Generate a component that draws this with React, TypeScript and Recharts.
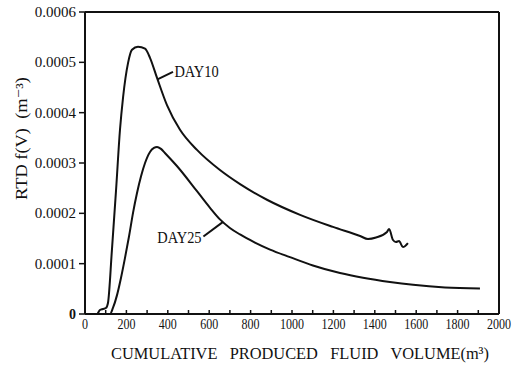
import React from 'react';
import { LineChart, Line, XAxis, YAxis, ReferenceLine, ReferenceDot, Label } from 'recharts';

// Residence-time distribution curves: cumulative produced fluid volume (m³) vs f(V) (m⁻³)
const day10Volume = [0, 58, 72, 87, 101, 111, 130, 150, 169, 184, 208, 227, 256, 290, 314, 348, 396, 459, 541, 652, 749, 879, 1039, 1198, 1329, 1367, 1406, 1459, 1469, 1488, 1502, 1517, 1536, 1560];
const day10Rtd = [0, 0, 0.000008, 0.00001, 0.000012, 0.000022, 0.000127, 0.000246, 0.000366, 0.000431, 0.000499, 0.000525, 0.000531, 0.000527, 0.000509, 0.000469, 0.000415, 0.000366, 0.000326, 0.000286, 0.000258, 0.000227, 0.000197, 0.000173, 0.000155, 0.000149, 0.000152, 0.000163, 0.000169, 0.000147, 0.000143, 0.000145, 0.000133, 0.000141];

const day25Volume = [0, 121, 135, 155, 174, 193, 213, 232, 251, 271, 290, 314, 333, 348, 367, 386, 444, 541, 604, 652, 700, 749, 821, 894, 990, 1101, 1232, 1343, 1473, 1585, 1739, 1908];
const day25Rtd = [0, 0, 0.000012, 0.000038, 0.000072, 0.000111, 0.000155, 0.000201, 0.00024, 0.000274, 0.0003, 0.000322, 0.00033, 0.000332, 0.000328, 0.00032, 0.000294, 0.000244, 0.000211, 0.000188, 0.000171, 0.000158, 0.000142, 0.000128, 0.000113, 0.0000964, 0.0000813, 0.0000719, 0.0000635, 0.0000579, 0.0000528, 0.0000506];

const xTicks = [0, 100, 200, 300, 400, 500, 600, 700, 800, 900, 1000, 1100, 1200, 1300, 1400, 1500, 1600, 1700, 1800, 1900, 2000];
const yTicks = [0, 0.0001, 0.0002, 0.0003, 0.0004, 0.0005, 0.0006];

const day10 = day10Volume.map((v, i) => ({ v, f: day10Rtd[i] }));
const day25 = day25Volume.map((v, i) => ({ v, f: day25Rtd[i] }));

const INK = '#111';
const FONT = '"Liberation Serif", "DejaVu Serif", serif';

const XTick = (props: any) => {
  const { x, y, payload } = props;
  const v = payload.value as number;
  return (
    <g>
      <line x1={x} y1={y} x2={x} y2={y - 4} stroke={INK} strokeWidth={1.5} />
      {v % 200 === 0 && (
        <text
          transform={`translate(${x} ${y + 15}) scale(0.8 1)`}
          textAnchor="middle"
          fontSize={15}
          fontFamily={FONT}
          fill={INK}
        >
          {v}
        </text>
      )}
    </g>
  );
};

const YTick = (props: any) => {
  const { x, y, payload } = props;
  const v = payload.value as number;
  return (
    <text
      x={x}
      y={y + 5}
      textAnchor="end"
      fontSize={v === 0 ? 14 : 15}
      fontWeight={v === 0 ? 'bold' : 'normal'}
      fontFamily={FONT}
      fill={INK}
    >
      {v === 0 ? '0' : v.toFixed(4)}
    </text>
  );
};

const XTitle = (props: any) => {
  const { viewBox } = props;
  return (
    <text
      x={viewBox.x + 26}
      y={359}
      textLength={378}
      lengthAdjust="spacingAndGlyphs"
      fontSize={17}
      fontFamily={FONT}
      fill={INK}
      style={{ whiteSpace: 'pre' }}
    >
      {'CUMULATIVE   PRODUCED   FLUID   VOLUME(m³)'}
    </text>
  );
};

const YTitle = () => (
  <text
    transform="translate(27 200) rotate(-90)"
    textLength={123}
    lengthAdjust="spacingAndGlyphs"
    fontSize={16}
    fontFamily={FONT}
    fill={INK}
    style={{ whiteSpace: 'pre' }}
  >
    {'RTD f(V)  (m⁻³)'}
  </text>
);

const SeriesName = (side: 'left' | 'right', text: string) => (props: any) => {
  const { viewBox } = props;
  const x = viewBox.x + viewBox.width / 2;
  const y = viewBox.y + viewBox.height / 2;
  return (
    <text
      transform={`translate(${side === 'right' ? x + 1 : x - 1} ${y + 6}) scale(0.9 1)`}
      textAnchor={side === 'right' ? 'start' : 'end'}
      fontSize={16}
      fontFamily={FONT}
      fill={INK}
    >
      {text}
    </text>
  );
};

export default function App() {
  return (
    <div style={{ position: 'absolute', left: 0, top: 0, background: '#fff' }}>
      <LineChart width={517} height={365} margin={{ top: 12, right: 18, bottom: 0, left: 0 }}>
        <XAxis
          type="number"
          dataKey="v"
          domain={[0, 2000]}
          ticks={xTicks}
          interval={0}
          height={51}
          tickSize={0}
          tickMargin={0}
          tickLine={false}
          tick={<XTick />}
          axisLine={{ stroke: INK, strokeWidth: 2 }}
          allowDuplicatedCategory={false}
        >
          <Label content={<XTitle />} />
        </XAxis>
        <YAxis
          type="number"
          domain={[0, 0.0006]}
          ticks={yTicks}
          interval={0}
          width={85}
          tickSize={6}
          tickMargin={3}
          tickLine={{ stroke: INK, strokeWidth: 1.5 }}
          tick={<YTick />}
          axisLine={{ stroke: INK, strokeWidth: 2 }}
        >
          <Label content={<YTitle />} />
        </YAxis>
        <ReferenceLine y={0.0006} stroke={INK} strokeWidth={2} ifOverflow="visible" />
        <ReferenceLine x={2000} stroke={INK} strokeWidth={2} ifOverflow="visible" />
        <Line
          data={day10}
          dataKey="f"
          type="monotone"
          stroke={INK}
          strokeWidth={2}
          dot={false}
          isAnimationActive={false}
        />
        <Line
          data={day25}
          dataKey="f"
          type="monotone"
          stroke={INK}
          strokeWidth={2}
          dot={false}
          isAnimationActive={false}
        />
        <ReferenceLine
          segment={[{ x: 350, y: 0.000466 }, { x: 425, y: 0.000481 }]}
          stroke={INK}
          strokeWidth={2}
        />
        <ReferenceDot x={427} y={0.000483} r={0} stroke="none" fill="none" label={SeriesName('right', 'DAY10')} />
        <ReferenceLine
          segment={[{ x: 667, y: 0.000183 }, { x: 572, y: 0.000154 }]}
          stroke={INK}
          strokeWidth={2}
        />
        <ReferenceDot x={568} y={0.000153} r={0} stroke="none" fill="none" label={SeriesName('left', 'DAY25')} />
      </LineChart>
    </div>
  );
}
